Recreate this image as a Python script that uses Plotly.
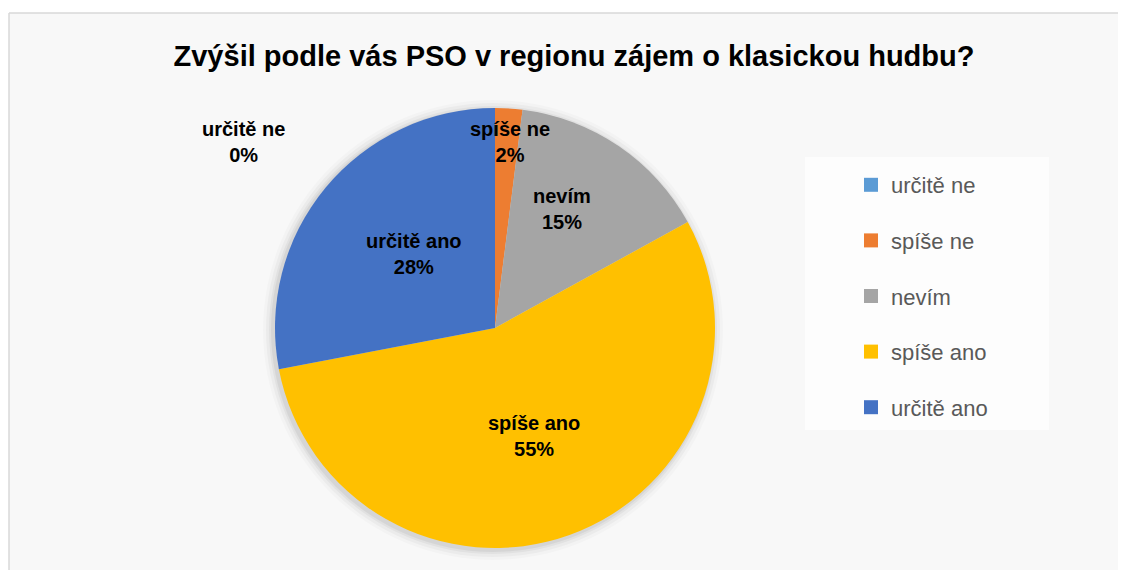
import math
import plotly.graph_objects as go

# ---- data ----
categories = ["určitě ne", "spíše ne", "nevím", "spíše ano", "určitě ano"]
values = [0, 2, 15, 55, 28]
colors = ["#5B9BD5", "#ED7D31", "#A5A5A5", "#FFC000", "#4472C4"]
title_text = "Zvýšil podle vás PSO v regionu zájem o klasickou hudbu?"

# ---- layout constants (figure pixels) ----
W, H = 1118, 562
CX, CY, R = 487, 320, 220
# label placement: radial fraction of radius and angular nudge (deg); None -> fixed
label_radius = [None, 0.85, 0.62, 0.52, 0.50]
label_nudge = [0, 1.0, -5.0, 0, 3.0]
label_fixed = {0: (235, 134)}

fig = go.Figure()

fig.add_trace(go.Pie(
    labels=categories, values=values, sort=False, direction="clockwise",
    rotation=0, textinfo="none", hoverinfo="label+percent",
    marker=dict(colors=colors, line=dict(width=0)),
    domain=dict(x=[(CX - R) / W, (CX + R) / W], y=[(H - CY - R) / H, (H - CY + R) / H]),
    showlegend=False,
))

# legend entries (one group per category so spacing can be controlled)
for cat, col in zip(categories, colors):
    fig.add_trace(go.Scatter(
        x=[None], y=[None], mode="markers", name=cat, legendgroup=cat,
        marker=dict(symbol="square", size=14, color=col),
        hoverinfo="skip",
    ))

# data labels
total = sum(values)
annotations = []
cum = 0.0
for i, (cat, v) in enumerate(zip(categories, values)):
    mid = (cum + v / 2) / total
    cum += v
    pct = f"{round(100 * v / total)}%"
    if label_radius[i] is None:
        px, py = label_fixed[i]
    else:
        th = 2 * math.pi * mid + math.radians(label_nudge[i])
        px = CX + label_radius[i] * R * math.sin(th)
        py = CY - label_radius[i] * R * math.cos(th)
    annotations.append(dict(
        x=px / W, y=1 - py / H, xref="paper", yref="paper",
        text=f"<b>{cat}<br>{pct}</b>", showarrow=False,
        xanchor="center", yanchor="middle", align="center",
        font=dict(family="Liberation Sans, Arial", size=20, color="#000000"),
    ))

top_y = 1 - 5 / H
left_x = 1 / W
shapes = [
    dict(type="rect", xref="paper", yref="paper", layer="below",
         x0=left_x, x1=1.1, y0=-0.1, y1=top_y,
         fillcolor="#f8f8f8", line=dict(width=0)),
    dict(type="line", xref="paper", yref="paper", layer="below",
         x0=left_x, x1=1.1, y0=top_y, y1=top_y, line=dict(color="#d9d9d9", width=1.5)),
    dict(type="line", xref="paper", yref="paper", layer="below",
         x0=left_x, x1=left_x, y0=-0.1, y1=top_y, line=dict(color="#d9d9d9", width=1.5)),
    dict(type="rect", xref="paper", yref="paper", layer="below",
         x0=797 / W, x1=1041 / W, y0=1 - 422 / H, y1=1 - 149 / H,
         fillcolor="#fdfdfd", line=dict(width=0)),
]
# soft shadow around the pie (offset slightly down-left)
for dr, op in [(10, 0.02), (7, 0.03), (4, 0.04), (2, 0.05)]:
    shapes.append(dict(
        type="circle", xref="paper", yref="paper", layer="below",
        x0=(CX - 2 - R - dr) / W, x1=(CX - 2 + R + dr) / W,
        y0=1 - (CY + 2 + R + dr) / H, y1=1 - (CY + 2 - R - dr) / H,
        fillcolor=f"rgba(0,0,0,{op})", line=dict(width=0)))

fig.update_layout(
    width=W, height=H, autosize=False,
    margin=dict(l=0, r=0, t=0, b=0),
    paper_bgcolor="#ffffff", plot_bgcolor="rgba(0,0,0,0)",
    title=dict(text=f"<b>{title_text}</b>", x=566 / W, xanchor="center",
               y=1 - 48 / H, yanchor="middle",
               font=dict(family="Liberation Sans, Arial", size=29, color="#000000")),
    xaxis=dict(visible=False), yaxis=dict(visible=False),
    legend=dict(x=843 / W, xanchor="left", y=1 - 156 / H, yanchor="top",
                bgcolor="rgba(0,0,0,0)", tracegroupgap=24,
                font=dict(family="Liberation Sans, Arial", size=22, color="#595959")),
    annotations=annotations, shapes=shapes,
)

fig.write_html("out.html")
